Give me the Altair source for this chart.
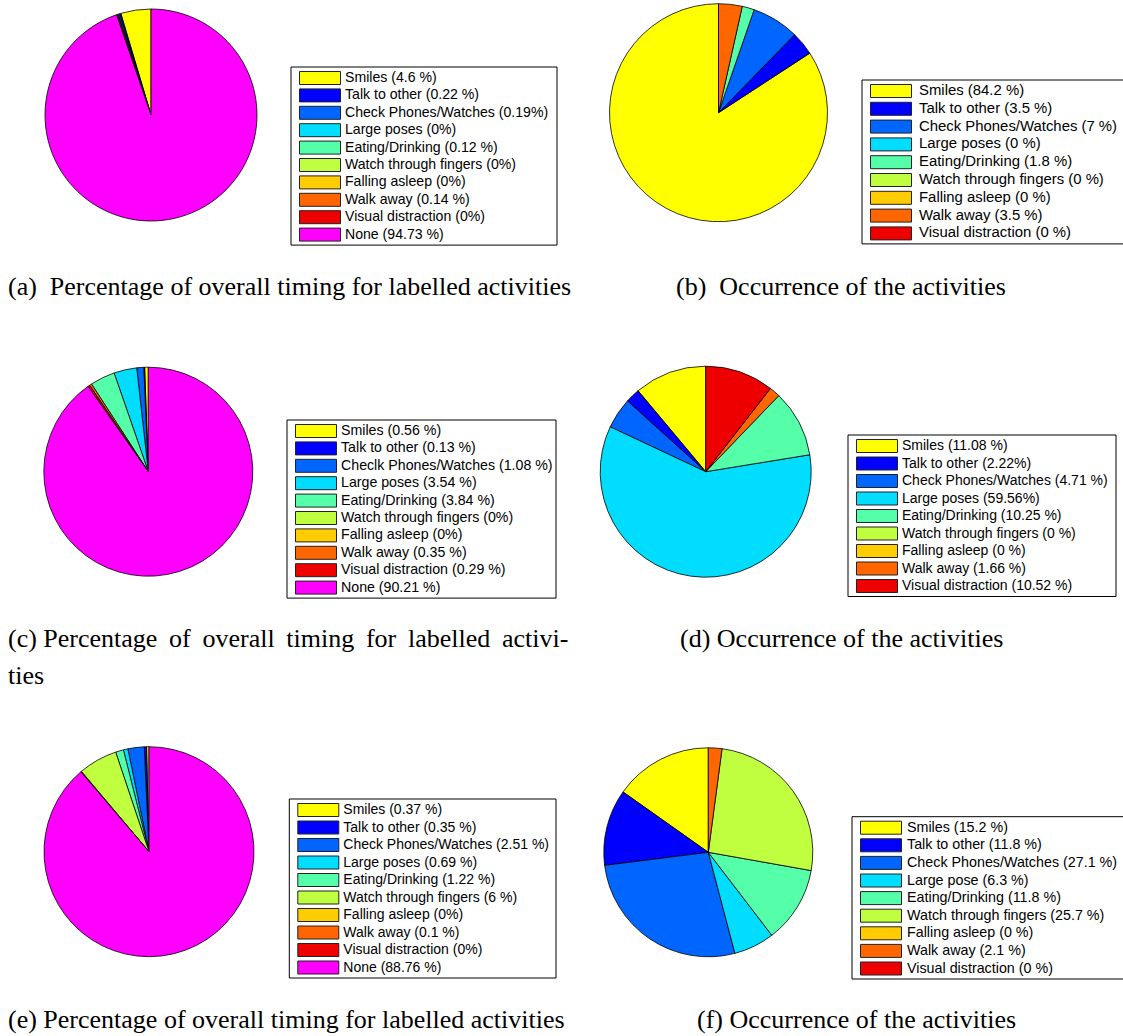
import math
import altair as alt
import pandas as pd

# Activity categories and the colour used for each of them
activities = [
    "Smiles", "Talk to other", "Check Phones/Watches", "Large poses",
    "Eating/Drinking", "Watch through fingers", "Falling asleep",
    "Walk away", "Visual distraction", "None",
]
palette = [
    "#FFFF00", "#0000FF", "#0066FF", "#00DDFF", "#55FFAA",
    "#BFFF40", "#FFCC00", "#FF6600", "#EE0000", "#FF00FF",
]

# (a) share of total time, session 1
a_values = [4.6, 0.22, 0.19, 0, 0.12, 0, 0, 0.14, 0, 94.73]
a_labels = [
    "Smiles (4.6 %)", "Talk to other (0.22 %)", "Check Phones/Watches (0.19%)",
    "Large poses (0%)", "Eating/Drinking (0.12 %)", "Watch through fingers (0%)",
    "Falling asleep (0%)", "Walk away (0.14 %)", "Visual distraction (0%)",
    "None (94.73 %)",
]
# (b) occurrences, session 1
b_values = [84.2, 3.5, 7, 0, 1.8, 0, 0, 3.5, 0]
b_labels = [
    "Smiles (84.2 %)", "Talk to other (3.5 %)", "Check Phones/Watches (7 %)",
    "Large poses (0 %)", "Eating/Drinking (1.8 %)", "Watch through fingers (0 %)",
    "Falling asleep (0 %)", "Walk away (3.5 %)", "Visual distraction (0 %)",
]
# (c) share of total time, session 2
c_values = [0.56, 0.13, 1.08, 3.54, 3.84, 0, 0, 0.35, 0.29, 90.21]
c_labels = [
    "Smiles (0.56 %)", "Talk to other (0.13 %)", "Checlk Phones/Watches (1.08 %)",
    "Large poses (3.54 %)", "Eating/Drinking (3.84 %)", "Watch through fingers (0%)",
    "Falling asleep (0%)", "Walk away (0.35 %)", "Visual distraction (0.29 %)",
    "None (90.21 %)",
]
# (d) occurrences, session 2
d_values = [11.08, 2.22, 4.71, 59.56, 10.25, 0, 0, 1.66, 10.52]
d_labels = [
    "Smiles (11.08 %)", "Talk to other (2.22%)", "Check Phones/Watches (4.71 %)",
    "Large poses (59.56%)", "Eating/Drinking (10.25 %)", "Watch through fingers (0 %)",
    "Falling asleep (0 %)", "Walk away (1.66 %)", "Visual distraction (10.52 %)",
]
# (e) share of total time, session 3
e_values = [0.37, 0.35, 2.51, 0.69, 1.22, 6, 0, 0.1, 0, 88.76]
e_labels = [
    "Smiles (0.37 %)", "Talk to other (0.35 %)", "Check Phones/Watches (2.51 %)",
    "Large poses (0.69 %)", "Eating/Drinking (1.22 %)", "Watch through fingers (6 %)",
    "Falling asleep (0%)", "Walk away (0.1 %)", "Visual distraction (0%)",
    "None (88.76 %)",
]
# (f) occurrences, session 3
f_values = [15.2, 11.8, 27.1, 6.3, 11.8, 25.7, 0, 2.1, 0]
f_labels = [
    "Smiles (15.2 %)", "Talk to other (11.8 %)", "Check Phones/Watches (27.1 %)",
    "Large pose (6.3 %)", "Eating/Drinking (11.8 %)", "Watch through fingers (25.7 %)",
    "Falling asleep (0 %)", "Walk away (2.1 %)", "Visual distraction (0 %)",
]

SANS = "Liberation Sans"
SERIF = "Liberation Serif"
SWATCH_W = 41
SWATCH_H = 13


def frame(values, labels):
    n = len(values)
    return pd.DataFrame({
        "idx": list(range(n)),
        "value": values,
        "label": labels,
        "color": palette[:n],
    })


def pie(values, labels, cx, cy, r):
    # slices run counter-clockwise from twelve o'clock, first category first
    return (
        alt.Chart(frame(values, labels))
        .transform_filter("datum.value > 0")
        .transform_stack(
            stack="value", groupby=[], as_=["t0", "t1"], offset="normalize",
            sort=[alt.SortField("idx", order="descending")],
        )
        .mark_arc(radius=r, stroke="black", strokeWidth=0.8)
        .encode(
            theta=alt.Theta("t0:Q", stack=None,
                            scale=alt.Scale(domain=[0, 1], range=[0, 2 * math.pi])),
            theta2="t1:Q",
            color=alt.Color("color:N", scale=None),
            x=alt.value(cx),
            y=alt.value(cy),
        )
    )


def legend(values, labels, left, right, top, row, size, text_dx):
    n = len(values)
    first = top + 11
    last = first + (n - 1) * row
    bottom = last + 10.5
    half = SWATCH_H / 2 / row
    yscale = alt.Scale(domain=[0, n - 1], range=[first, last])
    base = alt.Chart(frame(values, labels))
    box = (
        alt.Chart(pd.DataFrame({"k": [0]}))
        .mark_rect(fill="white", stroke="black", strokeWidth=1)
        .encode(x=alt.value(left), x2=alt.value(right),
                y=alt.value(top), y2=alt.value(bottom))
    )
    swatches = (
        base.transform_calculate(lo=f"datum.idx - {half}", hi=f"datum.idx + {half}")
        .mark_rect(stroke="#222222", strokeWidth=1)
        .encode(
            x=alt.value(left + 8.5), x2=alt.value(left + 8.5 + SWATCH_W),
            y=alt.Y("lo:Q", scale=yscale, axis=None), y2="hi:Q",
            color=alt.Color("color:N", scale=None),
        )
    )
    texts = (
        base.mark_text(align="left", baseline="middle", font=SANS,
                       fontSize=size, color="black")
        .encode(
            x=alt.value(left + text_dx),
            y=alt.Y("idx:Q", scale=yscale, axis=None),
            text="label:N",
        )
    )
    return box, alt.layer(swatches, texts)


def caption(text, x, y):
    return (
        alt.Chart(pd.DataFrame({"caption": [text]}))
        .mark_text(align="left", baseline="alphabetic", font=SERIF,
                   fontSize=26, color="black")
        .encode(text="caption:N", x=alt.value(x), y=alt.value(y))
    )


layers = []
panels = [
    # values, labels, (cx, cy, r), (left, right, top, row, font size, text offset)
    (a_values, a_labels, (151, 115, 106), (291, 557, 67, 17.4, 14.1, 54)),
    (b_values, b_labels, (718.5, 112.7, 109), (862, 1130, 80, 17.8, 14.9, 57)),
    (c_values, c_labels, (148.3, 471.7, 104.5), (287, 556, 420, 17.4, 14.2, 54)),
    (d_values, d_labels, (705.7, 471.7, 105.5), (848, 1116, 435, 17.5, 14.0, 54)),
    (e_values, e_labels, (149, 851.7, 105), (289.3, 556, 799, 17.5, 14.0, 54)),
    (f_values, f_labels, (708.3, 852.3, 104.5), (852, 1130, 816.7, 17.6, 14.3, 55)),
]
boxes = []
entries = []
for vals, labs, (cx, cy, r), (l, rr, t, row, fs, dx) in panels:
    layers.append(pie(vals, labs, cx, cy, r))
    bx, en = legend(vals, labs, l, rr, t, row, fs, dx)
    boxes.append(bx)
    entries.append(en)

captions = [
    caption("(a)\u2002Percentage of overall timing for labelled activities", 8, 295),
    caption("(b)\u2002Occurrence of the activities", 676, 295),
    caption("(c) Percentage\u2009 of\u2009 overall\u2009 timing\u2009 for\u2009 labelled\u2009 activi-", 8, 647),
    caption("ties", 8, 684),
    caption("(d) Occurrence of the activities", 680, 647),
    caption("(e) Percentage of overall timing for labelled activities", 8, 1028),
    caption("(f) Occurrence of the activities", 697, 1028),
]

chart = (
    alt.layer(*layers, *boxes, *entries, *captions)
    .resolve_scale(y="independent")
    .properties(width=1123, height=1036, padding=0,
                autosize=alt.AutoSizeParams(type="none"), background="white")
    .configure_view(stroke=None)
)

chart.save("out.html", embed_options={"renderer": "svg", "actions": False})
